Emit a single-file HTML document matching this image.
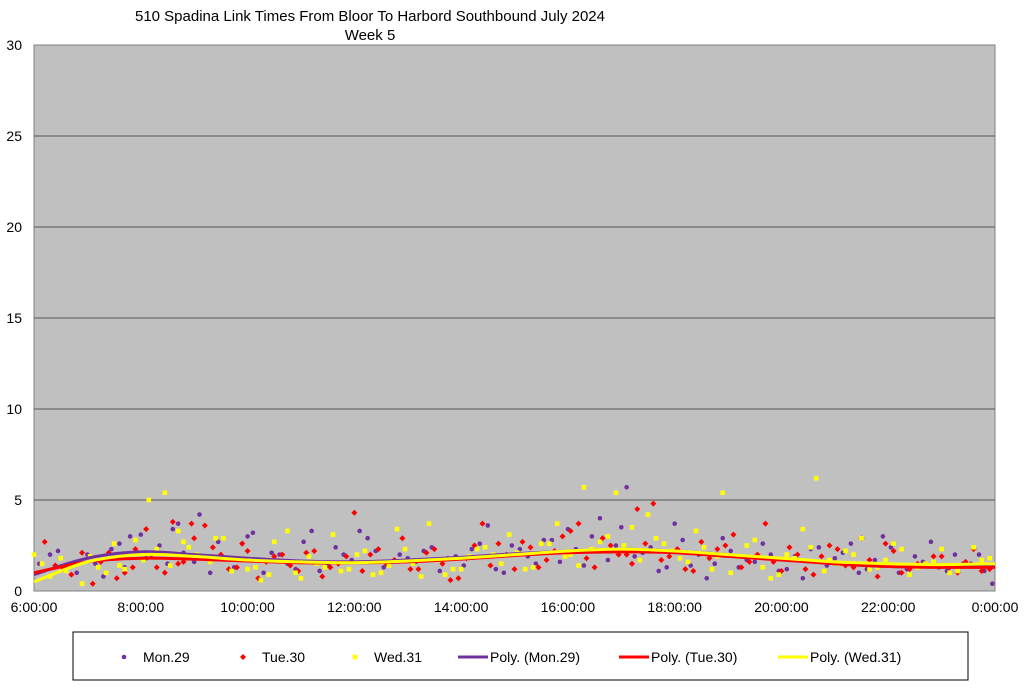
<!DOCTYPE html>
<html><head><meta charset="utf-8"><style>
body{margin:0;background:#fff;font-family:"Liberation Sans",Arial,sans-serif}
svg text{font-family:"Liberation Sans",Arial,sans-serif}
</style></head><body>
<svg id="c" width="1024" height="686">
<text x="370" y="21" font-size="15" text-anchor="middle">510 Spadina Link Times From Bloor To Harbord Southbound July 2024</text>
<text x="370" y="40" font-size="15" text-anchor="middle">Week 5</text>
<rect x="34" y="45" width="961" height="546" fill="#c0c0c0" stroke="#808080"/>
<g id="grid"></g><g id="pts"></g><g id="lines"></g><g id="axes"></g>
<rect x="73" y="632" width="895" height="48" fill="#fff" stroke="#000" stroke-width="1"/>
<g id="leg"></g>
</svg>
<script>
const yTicks=[0,5,10,15,20,25,30];
const xTickLabels=["6:00:00","8:00:00","10:00:00","12:00:00","14:00:00","16:00:00","18:00:00","20:00:00","22:00:00","0:00:00"];
const xTickHours=[6,8,10,12,14,16,18,20,22,24];
const monT=[6.1,6.3,6.6,7.0,7.3,7.6,7.8,8.0,8.2,8.5,8.7,8.9,9.1,9.3,9.6,9.9,10.1,10.3,10.6,10.9,11.2,11.5,11.8,12.1,12.4,12.7,13.0,13.3,13.6,13.9,14.2,14.5,14.8,15.1,15.4,15.7,16.0,16.3,16.6,16.9,17.1,17.4,17.7,18.0,18.3,18.6,18.9,19.2,19.5,19.8,20.1,20.4,20.7,21.0,21.3,21.6,21.9,22.2,22.5,22.8,23.1,23.4,23.7,23.95,
6.45,6.8,7.15,7.45,7.7,8.1,8.35,8.6,8.8,9.0,9.45,9.75,10.0,10.45,10.75,11.05,11.35,11.65,11.95,12.25,12.55,12.85,13.15,13.45,13.75,14.05,14.35,14.65,14.95,15.25,15.55,15.85,16.15,16.45,16.75,17.0,17.25,17.55,17.85,18.15,18.45,18.75,19.05,19.35,19.65,19.95,20.25,20.55,20.85,21.15,21.45,21.75,22.05,22.35,22.65,22.95,23.25,23.55,23.8];
const monV=[1.5,2.0,1.2,2.0,0.8,2.6,3.0,3.1,2.0,1.5,3.7,2.4,4.2,1.0,1.8,2.6,3.2,1.0,2.0,1.2,3.3,1.4,2.0,3.3,2.2,1.6,1.8,2.2,1.1,1.9,2.3,3.6,1.0,2.3,1.5,2.8,3.4,1.4,4.0,2.5,5.7,2.1,1.1,3.7,1.4,0.7,2.9,1.3,1.6,2.0,1.2,0.7,2.4,1.8,2.6,1.2,3.0,1.0,1.9,2.7,1.1,1.5,2.0,0.4,
2.2,1.0,1.5,2.3,1.3,1.8,2.5,3.4,2.1,1.6,2.7,1.3,3.0,2.1,1.5,2.7,1.1,2.4,1.7,2.9,1.3,2.0,1.6,2.4,1.8,1.4,2.6,1.2,2.5,1.9,2.8,1.6,2.3,3.0,1.7,3.5,1.9,2.4,1.3,2.8,2.0,1.5,2.2,1.7,2.6,1.1,1.9,2.3,1.4,2.1,1.0,1.7,2.4,1.2,1.6,1.3,2.0,1.5,1.1];
const tueT=[6.2,6.4,6.7,7.1,7.4,7.7,7.9,8.1,8.3,8.6,8.8,9.0,9.2,9.5,9.8,10.0,10.2,10.5,10.8,11.1,11.4,11.7,12.0,12.3,12.6,12.9,13.2,13.5,13.8,14.1,14.4,14.7,15.0,15.3,15.6,15.9,16.2,16.5,16.8,17.1,17.3,17.6,17.9,18.2,18.5,18.8,19.1,19.4,19.7,20.0,20.3,20.6,20.9,21.2,21.5,21.8,22.1,22.4,22.7,23.0,23.3,23.6,23.9,
6.55,6.9,7.25,7.55,7.85,8.2,8.45,8.7,8.95,9.35,9.65,9.9,10.35,10.65,10.95,11.25,11.55,11.85,12.15,12.45,12.75,13.05,13.35,13.65,13.95,14.25,14.55,14.85,15.15,15.45,15.75,16.05,16.35,16.65,16.95,17.2,17.45,17.75,18.05,18.35,18.65,18.95,19.25,19.55,19.85,20.15,20.45,20.75,21.05,21.35,21.65,21.95,22.25,22.55,22.85,23.15,23.45,23.75];
const tueV=[2.7,1.4,0.9,0.4,2.1,1.0,2.3,3.4,1.3,3.8,1.6,2.9,3.6,2.0,1.3,2.2,0.7,1.9,1.4,2.1,0.8,1.5,4.3,2.0,1.5,2.9,1.2,2.3,0.6,1.8,3.7,2.6,1.2,2.4,1.7,3.0,3.7,1.3,2.5,2.0,4.5,4.8,1.9,1.2,2.7,2.3,3.1,1.6,3.7,1.1,2.0,0.9,2.5,1.4,2.9,0.8,2.2,1.2,1.5,1.9,1.0,2.3,1.2,
1.2,2.1,1.6,0.7,1.3,2.0,1.0,1.5,3.7,2.4,1.2,2.6,1.6,2.0,1.1,2.2,1.3,1.9,1.1,2.3,1.7,1.2,2.1,1.5,0.7,2.5,1.4,2.0,2.7,1.3,2.2,3.3,1.8,2.9,2.0,1.5,2.6,1.7,2.3,1.1,1.8,2.5,1.3,2.0,1.6,2.4,1.2,1.9,2.3,1.3,1.7,2.6,1.0,1.5,1.9,1.3,1.6,1.1];
const wedT=[6.0,6.3,6.5,6.9,7.2,7.5,7.7,7.9,8.15,8.45,8.7,8.9,9.15,9.4,9.7,10.0,10.25,10.5,10.75,11.0,11.3,11.6,11.9,12.2,12.5,12.8,13.1,13.4,13.7,14.0,14.3,14.6,14.9,15.2,15.5,15.8,16.05,16.3,16.6,16.9,17.2,17.5,17.8,18.1,18.4,18.7,18.9,19.2,19.5,19.8,20.1,20.4,20.65,20.9,21.2,21.5,21.8,22.1,22.4,22.7,23.0,23.3,23.6,23.9,
6.15,6.6,7.05,7.35,7.6,8.05,8.3,8.55,8.8,9.05,9.3,9.55,9.85,10.15,10.4,10.65,10.9,11.15,11.45,11.75,12.05,12.35,12.65,12.95,13.25,13.55,13.85,14.15,14.45,14.75,15.05,15.35,15.65,15.95,16.2,16.45,16.75,17.05,17.35,17.65,17.95,18.25,18.55,18.8,19.05,19.35,19.65,19.95,20.25,20.55,20.8,21.05,21.35,21.65,21.95,22.25,22.55,22.85,23.15,23.45,23.75];
const wedV=[2.0,0.8,1.8,0.4,1.3,2.6,1.2,2.8,5.0,5.4,3.3,2.4,1.9,2.9,1.1,1.2,0.6,2.7,3.3,0.7,1.5,3.1,1.2,2.2,1.0,3.4,1.5,3.7,0.9,1.2,2.3,2.0,3.1,1.2,2.6,3.7,2.0,5.7,2.7,5.4,3.5,4.2,2.6,1.8,3.3,1.2,5.4,1.9,2.8,0.7,2.0,3.4,6.2,1.7,2.2,2.9,1.3,2.6,0.9,1.5,2.3,1.1,2.4,1.8,
1.5,1.1,1.9,1.0,1.4,1.7,2.3,1.4,2.7,2.0,1.6,2.9,1.8,1.3,0.9,1.6,1.0,1.9,1.3,1.1,2.0,0.9,1.4,2.3,0.8,1.7,1.2,1.9,2.4,1.5,2.1,1.3,2.6,1.9,1.4,2.3,3.0,2.5,1.7,2.9,2.2,1.6,2.4,1.9,1.0,2.5,1.3,0.9,1.8,2.4,1.1,1.5,2.0,1.2,1.7,2.3,1.3,1.6,1.0,1.4,1.7];
const polyH=[6,7,8,9,10,11,12,13,14,15,16,17,18,19,20,21,22,23,24];
const monPoly=[0.9,1.8,2.15,2.0,1.8,1.65,1.6,1.7,1.85,2.05,2.2,2.3,2.2,2.0,1.75,1.5,1.35,1.35,1.45];
const tuePoly=[1.0,1.6,1.8,1.75,1.65,1.55,1.55,1.6,1.75,1.95,2.1,2.15,2.1,1.9,1.7,1.5,1.35,1.3,1.3];
const wedPoly=[0.5,1.6,2.0,1.9,1.7,1.6,1.55,1.65,1.8,2.0,2.2,2.3,2.2,2.0,1.8,1.6,1.5,1.45,1.5];
const NS="http://www.w3.org/2000/svg";
const X=h=>34+(h-6)/18*961, Y=v=>591-v/30*546;
function mk(p,t,a){const e=document.createElementNS(NS,t);for(const k in a)e.setAttribute(k,a[k]);document.getElementById(p).appendChild(e);return e;}
yTicks.forEach(v=>{if(v>0&&v<30){const l=mk('grid','line',{x1:34,x2:995,y1:Y(v),y2:Y(v),stroke:'#555','stroke-width':1});

}
const t=mk('axes','text',{x:22,y:Y(v)+5,'font-size':14,'text-anchor':'end',fill:'#000'});t.textContent=v;

});
xTickHours.forEach((h,i)=>{const t=mk('axes','text',{x:X(h),y:612,'font-size':14,'text-anchor':'middle'});t.textContent=xTickLabels[i];

});
function dots(T,V,col,shape,name){T.forEach((h,i)=>{if(V[i]===undefined)return;let e;const x=X(h),y=Y(V[i]);
if(shape==='c')e=mk('pts','circle',{cx:x,cy:y,r:2.3,fill:col});
else if(shape==='d')e=mk('pts','polygon',{points:`${x},${y-3} ${x+3},${y} ${x},${y+3} ${x-3},${y}`,fill:col});
else e=mk('pts','rect',{x:x-2.3,y:y-2.3,width:4.6,height:4.6,fill:col});

});}
dots(monT,monV,'#7030a0','c','mon-point');dots(tueT,tueV,'#ff0000','d','tue-point');dots(wedT,wedV,'#ffff00','s','wed-point');
function poly(V,col,name){let d='';const p=polyH.map((h,i)=>[X(h),Y(V[i])]);d='M'+p[0];for(let i=0;i<p.length-1;i++){const a=p[Math.max(i-1,0)],b=p[i],c=p[i+1],e=p[Math.min(i+2,p.length-1)];
d+=` C${b[0]+(c[0]-a[0])/6},${b[1]+(c[1]-a[1])/6} ${c[0]-(e[0]-b[0])/6},${c[1]-(e[1]-b[1])/6} ${c[0]},${c[1]}`;}
const l=mk('lines','path',{d,fill:'none',stroke:col,'stroke-width':3});

}
poly(monPoly,'#7030a0','poly-mon');poly(tuePoly,'#ff0000','poly-tue');poly(wedPoly,'#ffff00','poly-wed');
const leg=[['Mon.29','#7030a0','c',124],['Tue.30','#ff0000','d',243],['Wed.31','#ffff00','s',355],['Poly. (Mon.29)','#7030a0','l',458],['Poly. (Tue.30)','#ff0000','l',619],['Poly. (Wed.31)','#ffff00','l',778]];
leg.forEach(([t,c,s,x])=>{let e;const y=657;
if(s==='c')e=mk('leg','circle',{cx:x,cy:y,r:2.3,fill:c});
else if(s==='d')e=mk('leg','polygon',{points:`${x},${y-3} ${x+3},${y} ${x},${y+3} ${x-3},${y}`,fill:c});
else if(s==='s')e=mk('leg','rect',{x:x-2.3,y:y-2.3,width:4.6,height:4.6,fill:c});
else e=mk('leg','line',{x1:x,x2:x+30,y1:y,y2:y,stroke:c,'stroke-width':3});


const tx=mk('leg','text',{x:s==='l'?x+32:x+19,y:y+5,'font-size':14});tx.textContent=t;

});
</script>
</body></html>
